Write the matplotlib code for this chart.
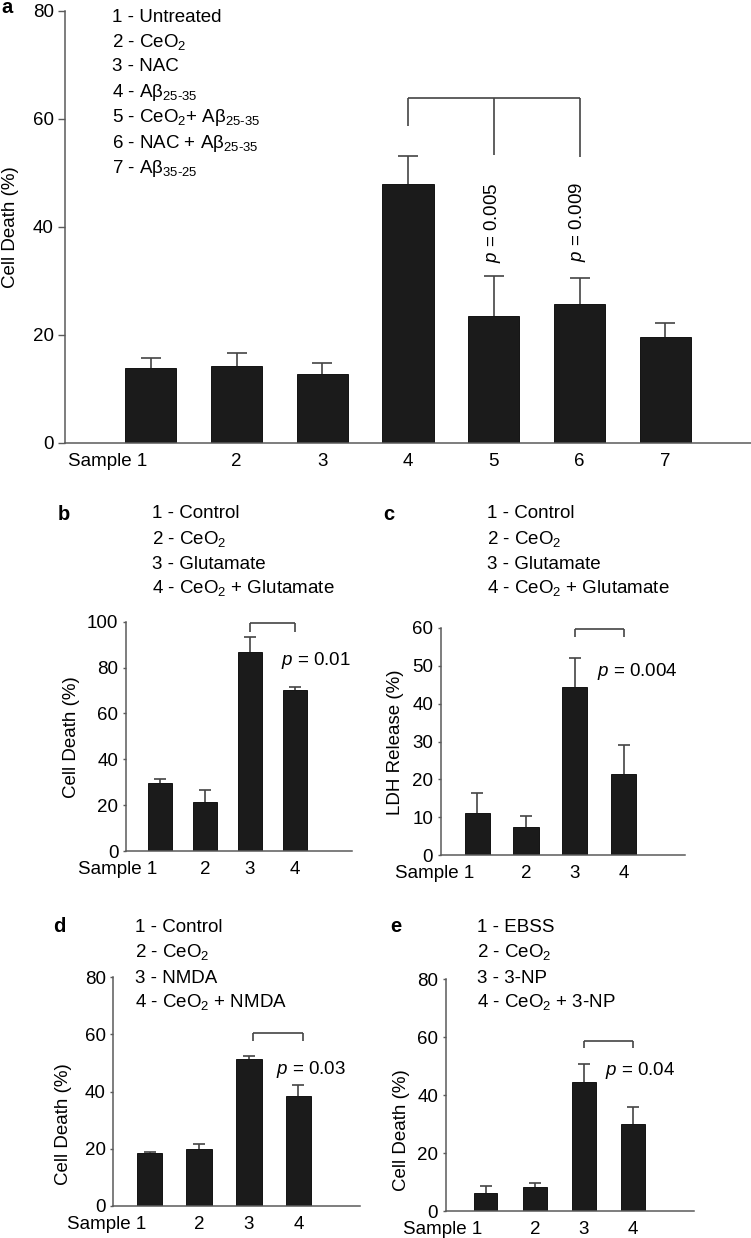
import matplotlib
matplotlib.use("Agg")
import matplotlib.pyplot as plt
from matplotlib.transforms import ScaledTranslation

# 1. Data
a_items = ["1 - Untreated", "2 - CeO$_2$", "3 - NAC",
           "4 - A\u03b2$_{\\text{25-35}}$", "5 - CeO$_2$+ A\u03b2$_{\\text{25-35}}$",
           "6 - NAC + A\u03b2$_{\\text{25-35}}$", "7 - A\u03b2$_{\\text{35-25}}$"]
a_ticks = ["Sample 1", "2", "3", "4", "5", "6", "7"]
a_means = [13.9, 14.2, 12.75, 47.9, 23.5, 25.8, 19.7]
a_err = [1.9, 2.5, 2.15, 5.2, 7.4, 4.7, 2.6]
a_pvals = ["$p$ = 0.005", "$p$ = 0.009"]

b_items = ["1 - Control", "2 - CeO$_2$", "3 - Glutamate", "4 - CeO$_2$ + Glutamate"]
b_means = [29.7, 21.4, 86.8, 70.0]
b_err = [1.5, 5.1, 6.4, 1.7]

c_items = ["1 - Control", "2 - CeO$_2$", "3 - Glutamate", "4 - CeO$_2$ + Glutamate"]
c_means = [11.2, 7.5, 44.5, 21.4]
c_err = [5.3, 2.8, 7.5, 7.6]

d_items = ["1 - Control", "2 - CeO$_2$", "3 - NMDA", "4 - CeO$_2$ + NMDA"]
d_means = [18.4, 20.0, 51.3, 38.5]
d_err = [0.6, 1.6, 1.1, 3.7]

e_items = ["1 - EBSS", "2 - CeO$_2$", "3 - 3-NP", "4 - CeO$_2$ + 3-NP"]
e_means = [6.1, 8.4, 44.6, 29.9]
e_err = [2.5, 1.1, 6.1, 5.9]

small_ticks = ["Sample 1", "2", "3", "4"]

# 2. Style
plt.rcParams["font.family"] = "Liberation Sans"
plt.rcParams["mathtext.fontset"] = "custom"
plt.rcParams["mathtext.rm"] = "Liberation Sans"
plt.rcParams["mathtext.it"] = "Liberation Sans:italic"
plt.rcParams["mathtext.bf"] = "Liberation Sans:bold"

W, H = 751, 1238
bar_color = "#1b1b1b"
axis_color = "#5a5a5a"
line_color = "#444444"
fs = 13.5

fig = plt.figure(figsize=(W / 100, H / 100), dpi=100)


def fx(px):
    return px / W


def fy(py):
    return 1 - py / H


def make_axes(x0, x1, y0, y1):
    # pixel box: left, right, top, bottom
    return fig.add_axes([fx(x0), fy(y1), (x1 - x0) / W, (y1 - y0) / H])


def draw_bars(ax, means, err, ticks, xlim, ylim, step, width, capsize, ticklen):
    x = list(range(1, len(means) + 1))
    ax.bar(x, means, width=width, color=bar_color, edgecolor="#000000",
           linewidth=0.6, zorder=2)
    # upper error bars only
    _, caps, _ = ax.errorbar(x, means, yerr=[[0] * len(err), err], fmt="none",
                             ecolor=line_color, elinewidth=1.2, capsize=capsize,
                             capthick=1.2, zorder=3)
    caps[0].set_visible(False)
    ax.set_xlim(*xlim)
    ax.set_ylim(*ylim)
    ax.set_yticks(range(ylim[0], ylim[1] + 1, step))
    ax.set_xticks(x)
    ax.set_xticklabels(ticks)
    for s in ["top", "right"]:
        ax.spines[s].set_visible(False)
    for s in ["left", "bottom"]:
        ax.spines[s].set_color(axis_color)
        ax.spines[s].set_linewidth(1.1)
    ax.tick_params(axis="y", length=ticklen, width=1.0, color=axis_color,
                   labelsize=fs, pad=3)
    ax.tick_params(axis="x", length=0, labelsize=fs, pad=7)
    # "Sample 1" ends at the first bar
    lab = ax.get_xticklabels()[0]
    lab.set_ha("right")
    lab.set_transform(lab.get_transform() +
                      ScaledTranslation(-0.03, 0, fig.dpi_scale_trans))
    return x


def bracket(ax, xs, top, ends):
    ax.plot([xs[0], xs[-1]], [top, top], color=line_color, lw=1.2,
            solid_capstyle="butt", clip_on=False)
    for xv, ev in zip(xs, ends):
        ax.plot([xv, xv], [top, ev], color=line_color, lw=1.2,
                solid_capstyle="butt", clip_on=False)


def item_list(items, x0, baselines):
    for t, yb in zip(items, baselines):
        fig.text(fx(x0), fy(yb), t, fontsize=fs, va="baseline", ha="left")


# 3. Panel a
ax_a = make_axes(65, 751, 11, 443)
xa = draw_bars(ax_a, a_means, a_err, a_ticks, (0, 8), (0, 80), 20, 0.6, 7, 5)
bracket(ax_a, [4, 5, 6], 63.9, [58.7, 53.3, 53.0])
for xv, t in zip([5, 6], a_pvals):
    ax_a.text(xv - 0.02, 48.3, t, rotation=90, ha="center", va="top", fontsize=fs)
item_list(a_items, 112, [22, 47, 71, 97, 122, 148, 173])
fig.text(fx(1), fy(13), "a", fontsize=fs + 1, fontweight="bold", va="baseline")
fig.text(fx(11), fy(227), "Cell Death (%)", rotation=90, ha="center",
         va="center", fontsize=fs)

# 4. Panel b
ax_b = make_axes(126, 352, 621.7, 851)
draw_bars(ax_b, b_means, b_err, small_ticks, (0.25, 5.27), (0, 100), 20, 0.53, 4, 2.5)
bracket(ax_b, [3, 4], 99.3, [95.5, 95.5])
ax_b.text(3.69, 80.9, "$p$ = 0.01", ha="left", va="baseline", fontsize=fs)
item_list(b_items, 152, [518, 544, 569, 593])
fig.text(fx(58), fy(520), "b", fontsize=fs + 1, fontweight="bold", va="baseline")
fig.text(fx(72), fy(737), "Cell Death (%)", rotation=90, ha="center",
         va="center", fontsize=fs)

# 5. Panel c
ax_c = make_axes(440.7, 685, 628, 855)
draw_bars(ax_c, c_means, c_err, small_ticks, (0.25, 5.26), (0, 60), 10, 0.52, 4, 2.5)
bracket(ax_c, [3, 4], 59.7, [57.6, 57.6])
ax_c.text(3.45, 47.2, "$p$ = 0.004", ha="left", va="baseline", fontsize=fs)
item_list(c_items, 487, [518, 544, 569, 593])
fig.text(fx(383), fy(520), "c", fontsize=fs + 1, fontweight="bold", va="baseline")
fig.text(fx(395), fy(742), "LDH Release (%)", rotation=90, ha="center",
         va="center", fontsize=fs)

# 6. Panel d
ax_d = make_axes(113.3, 360, 977.3, 1206)
draw_bars(ax_d, d_means, d_err, small_ticks, (0.27, 5.24), (0, 80), 20, 0.52, 4, 2.5)
bracket(ax_d, [3.08, 4.1], 60.5, [57.7, 57.7])
ax_d.text(3.55, 46.1, "$p$ = 0.03", ha="left", va="baseline", fontsize=fs)
item_list(d_items, 135, [932, 957, 983, 1007])
fig.text(fx(53), fy(932), "d", fontsize=fs + 1, fontweight="bold", va="baseline")
fig.text(fx(63), fy(1124), "Cell Death (%)", rotation=90, ha="center",
         va="center", fontsize=fs)

# 7. Panel e
ax_e = make_axes(445.7, 694.3, 979, 1211)
draw_bars(ax_e, e_means, e_err, small_ticks, (0.19, 5.24), (0, 80), 20, 0.48, 4, 2.5)
bracket(ax_e, [3, 4], 58.7, [56.1, 56.1])
ax_e.text(3.42, 46.9, "$p$ = 0.04", ha="left", va="baseline", fontsize=fs)
item_list(e_items, 477, [932, 957, 983, 1007])
fig.text(fx(390), fy(932), "e", fontsize=fs + 1, fontweight="bold", va="baseline")
fig.text(fx(402), fy(1130), "Cell Death (%)", rotation=90, ha="center",
         va="center", fontsize=fs)

fig.savefig("out.png", dpi=100)
